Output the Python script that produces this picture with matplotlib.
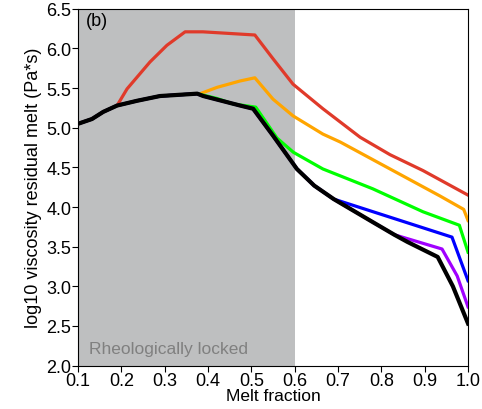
import matplotlib.pyplot as plt

plt.rcParams["font.family"] = ["Liberation Sans", "DejaVu Sans"]

# base curve (black), shared by all runs until they split off
base_x = [0.10, 0.132, 0.158, 0.19, 0.236, 0.289, 0.375, 0.389, 0.474, 0.504, 0.55, 0.605, 0.645, 0.69, 0.78, 0.83, 0.86, 0.93, 0.965, 1.0]
base_y = [5.05, 5.11, 5.20, 5.28, 5.34, 5.40, 5.43, 5.40, 5.28, 5.24, 4.90, 4.48, 4.27, 4.10, 3.81, 3.65, 3.56, 3.37, 3.00, 2.53]

red_x = [0.10, 0.132, 0.158, 0.19, 0.213, 0.266, 0.305, 0.347, 0.388, 0.508, 0.55, 0.596, 0.665, 0.751, 0.82, 0.896, 1.0]
red_y = [5.05, 5.11, 5.20, 5.28, 5.49, 5.83, 6.04, 6.21, 6.21, 6.17, 5.87, 5.55, 5.24, 4.88, 4.66, 4.46, 4.15]

orange_x = [0.10, 0.132, 0.158, 0.19, 0.236, 0.289, 0.375, 0.382, 0.421, 0.474, 0.508, 0.55, 0.596, 0.665, 0.705, 0.82, 0.935, 0.99, 1.0]
orange_y = [5.05, 5.11, 5.20, 5.28, 5.34, 5.40, 5.43, 5.43, 5.51, 5.59, 5.63, 5.36, 5.15, 4.92, 4.82, 4.48, 4.14, 3.97, 3.83]

green_x = [0.10, 0.132, 0.158, 0.19, 0.236, 0.289, 0.375, 0.42, 0.458, 0.51, 0.559, 0.597, 0.665, 0.78, 0.896, 0.98, 1.0]
green_y = [5.05, 5.11, 5.20, 5.28, 5.34, 5.40, 5.43, 5.37, 5.30, 5.26, 4.87, 4.69, 4.48, 4.23, 3.94, 3.77, 3.43]

blue_x = base_x[:14] + [0.963, 1.0]
blue_y = base_y[:14] + [3.62, 3.07]

purple_x = base_x[:16] + [0.94, 0.975, 1.0]
purple_y = base_y[:16] + [3.47, 3.13, 2.74]

fig = plt.figure(figsize=(4.82, 4.10), dpi=100)
ax = fig.add_axes([0.162, 0.106, 0.809, 0.870])

# rheologically locked zone
ax.axvspan(0.1, 0.6, color="#bebfc0", lw=0, zorder=0)

ax.plot(red_x, red_y, color="#e03a2a", lw=2.3, zorder=2)
ax.plot(orange_x, orange_y, color="#ffa500", lw=2.3, zorder=3)
ax.plot(green_x, green_y, color="#00ff00", lw=2.3, zorder=4)
ax.plot(blue_x, blue_y, color="#0000ff", lw=2.3, zorder=5)
ax.plot(purple_x, purple_y, color="#a000ff", lw=2.3, zorder=6)
ax.plot(base_x, base_y, color="black", lw=3.0, zorder=7)

ax.set_xlim(0.1, 1.0)
ax.set_ylim(2.0, 6.5)
ax.set_xticks([0.1, 0.2, 0.3, 0.4, 0.5, 0.6, 0.7, 0.8, 0.9, 1.0])
ax.set_yticks([2.0, 2.5, 3.0, 3.5, 4.0, 4.5, 5.0, 5.5, 6.0, 6.5])
ax.xaxis.set_major_formatter(plt.FormatStrFormatter("%.1f"))
ax.yaxis.set_major_formatter(plt.FormatStrFormatter("%.1f"))
ax.tick_params(labelsize=13, length=4, pad=1)

ax.set_xlabel("Melt fraction", fontsize=12.5, labelpad=-1)
ax.set_ylabel("log10 viscosity residual melt (Pa*s)", fontsize=13, labelpad=3)

ax.text(0.117, 6.35, "(b)", fontsize=13, ha="left", va="center")
ax.text(0.125, 2.22, "Rheologically locked", fontsize=12.5, color="#808080", ha="left", va="center")

plt.savefig("out.png", dpi=100)
